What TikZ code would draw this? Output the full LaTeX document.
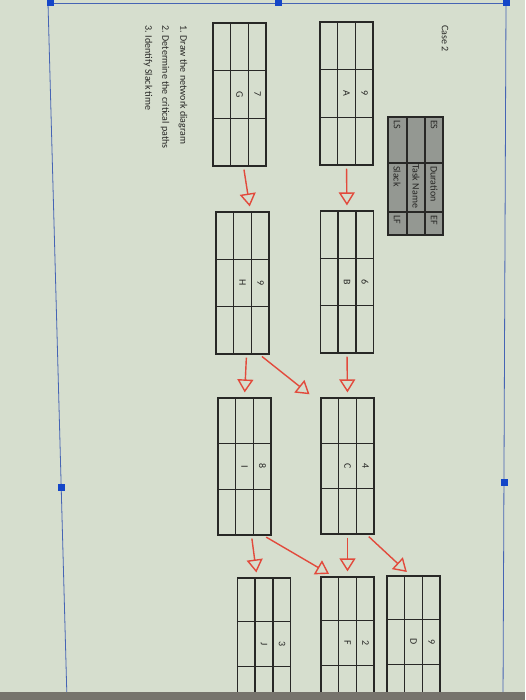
\documentclass[tikz,border=0pt]{standalone}
\usepackage{fontspec}
\setmainfont{Carlito}
\usetikzlibrary{arrows.meta,calc}

\definecolor{paper}{RGB}{214,222,206}
\definecolor{pen}{RGB}{226,74,60}
\definecolor{ink}{RGB}{40,40,38}
\definecolor{keygray}{RGB}{148,152,146}
\definecolor{frameblue}{RGB}{70,100,180}
\definecolor{handleblue}{RGB}{20,70,200}
\definecolor{screen}{RGB}{118,116,108}

\tikzset{
  box/.style={draw=ink, line width=1.2pt, minimum width=53pt, inner sep=0pt},
  boxline/.style={draw=ink, line width=1.2pt},
  cell/.style={rotate=-90, inner sep=0pt, text=ink, font=\fontsize{10}{12}\selectfont},
  flow/.style={draw=pen, line width=1.4pt, -{Triangle[open,length=13pt,width=16pt]},
    shorten <=3pt, shorten >=5pt},
  handle/.style={fill=handleblue, minimum size=7pt, inner sep=0pt},
}

% name, x, y, height, duration, task
\newcommand{\taskbox}[6]{%
  \node[box, minimum height=#4pt] (#1) at (#2,#3) {};
  \draw[boxline] ($(#1.north west)!1/3!(#1.north east)$) -- ($(#1.south west)!1/3!(#1.south east)$);
  \draw[boxline] ($(#1.north west)!2/3!(#1.north east)$) -- ($(#1.south west)!2/3!(#1.south east)$);
  \draw[boxline] ($(#1.north west)!1/3!(#1.south west)$) -- ($(#1.north east)!1/3!(#1.south east)$);
  \draw[boxline] ($(#1.north west)!2/3!(#1.south west)$) -- ($(#1.north east)!2/3!(#1.south east)$);
  \node[cell] (#1dur) at ($(#1.center)!2/3!(#1.east)$) {#5};
  \node[cell] (#1name) at (#1.center) {#6};
}

\begin{document}
\begin{tikzpicture}[x=1pt, y=-1pt]

  \useasboundingbox (0,0) rectangle (525,700);
  \clip (0,0) rectangle (525,700);
  \fill[paper] (0,0) rectangle (525,700);

  % page frame of the editor
  \draw[frameblue, line width=0.8pt] (48,3) -- (506,3);
  \draw[frameblue, line width=0.8pt] (48,3) -- (67,700);
  \draw[frameblue, line width=0.8pt] (506,3) -- (503,700);
  \node[handle] (h1) at (50,3) {};
  \node[handle] (h2) at (278,3) {};
  \node[handle] (h3) at (506,3) {};
  \node[handle] (h4) at (61,487) {};
  \node[handle] (h5) at (504,482) {};

  % title and questions
  \node[cell, anchor=west] (title) at (445,25) {Case 2};
  \node[cell, anchor=west] (q1) at (183,25) {1. Draw the network diagram};
  \node[cell, anchor=west] (q2) at (165,25) {2. Determine the critical paths};
  \node[cell, anchor=west] (q3) at (148,25) {3. Identify Slack time};

  % legend
  \fill[keygray] (388,117) rectangle (443,235);
  \draw[boxline] (388,117) rectangle (443,235);
  \draw[boxline] (407,117) -- (407,235);
  \draw[boxline] (425,117) -- (425,235);
  \draw[boxline] (388,163) -- (443,163);
  \draw[boxline] (388,212) -- (443,212);
  \node[cell, anchor=west] (kes) at (434,120) {ES};
  \node[cell, anchor=west] (kdur) at (434,166) {Duration};
  \node[cell, anchor=west] (kef) at (434,215) {EF};
  \node[cell, anchor=west] (kname) at (416,164) {Task Name};
  \node[cell, anchor=west] (kls) at (397,120) {LS};
  \node[cell, anchor=west] (kslack) at (397,166) {Slack};
  \node[cell, anchor=west] (klf) at (397,215) {LF};

  % activities
  \taskbox{A}{346.5}{93.5}{143}{9}{A}
  \taskbox{G}{239.5}{94.5}{143}{7}{G}
  \taskbox{B}{347}{282}{142}{6}{B}
  \taskbox{H}{242.5}{283}{142}{9}{H}
  \taskbox{C}{347.5}{466}{136}{4}{C}
  \taskbox{I}{244.5}{466.5}{137}{8}{I}
  \taskbox{D}{413.5}{642}{132}{9}{D}
  \taskbox{F}{347.5}{643}{132}{2}{F}
  \taskbox{J}{264}{644}{132}{3}{J}

  % precedence arrows
  \draw[flow] (A.south) -- (B.north);
  \draw[flow] ([xshift=4pt]G.south) -- ([xshift=8pt]H.north);
  \draw[flow] (B.south) -- (C.north);
  \draw[flow] ([xshift=4pt]H.south) -- (I.north);
  \draw[flow] ([xshift=-10pt]H.south east) -- ([xshift=-7pt]C.north west);
  \draw[flow] (C.south) -- (F.north);
  \draw[flow] ([xshift=-8pt]C.south east) -- ([xshift=-3pt]D.north);
  \draw[flow] ([xshift=7pt]I.south) -- ([xshift=-7pt]J.north);
  \draw[flow] ([xshift=-8pt]I.south east) -- ([xshift=13pt]F.north west);

  % edge of the screen
  \fill[screen] (0,692) rectangle (525,700);

\end{tikzpicture}
\end{document}
